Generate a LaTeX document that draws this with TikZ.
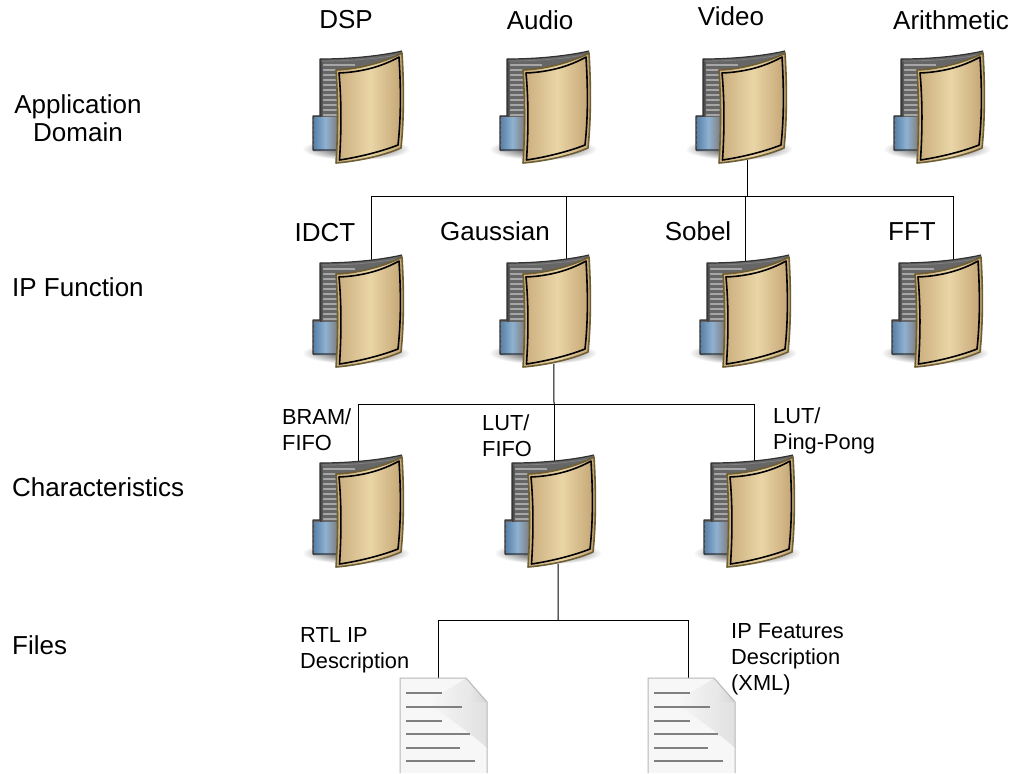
\documentclass[tikz,border=0pt]{standalone}
\usepackage{fontspec}
\setmainfont{Liberation Sans}
\begin{document}
\definecolor{gold}{HTML}{6E5E34}
\definecolor{panelA}{HTML}{C9AC7C}
\definecolor{panelB}{HTML}{EAD5A6}
\definecolor{panelC}{HTML}{C2A272}
\definecolor{blueA}{HTML}{5A82A8}
\definecolor{blueB}{HTML}{8FB2D2}
\begin{tikzpicture}[x=1pt,y=-1pt,
  big/.style={font=\fontsize{26}{27}\selectfont,align=center,inner sep=0pt},
  bigleft/.style={font=\fontsize{26}{27}\selectfont,anchor=west,inner sep=0pt},
  small/.style={font=\fontsize{21.8}{26}\selectfont,anchor=north west,align=left,inner sep=0pt},
  anchorbox/.style={minimum height=#1,inner sep=0pt,draw=none},
  conn/.style={draw=black,line width=1pt},
  folder/.pic={
    \shade[inner color=black!85,outer color=white] (61,104) ellipse [x radius=54,y radius=11];
    \path[fill=black!60] (25,14) .. controls (55,14) and (85,11) .. (107,6) -- (107,90) -- (42,106) -- (18,106) -- (18,71) -- (25,71) -- cycle;
    \begin{scope}
      \clip (25,14) .. controls (55,14) and (85,11) .. (107,6) -- (107,90) -- (42,106) -- (18,106) -- (18,71) -- (25,71) -- cycle;
      \foreach \yy in {20,25,...,100} {\draw[black!35,line width=2pt] (18,\yy) -- (60,\yy);}
      \shade[left color=black!75,right color=black!60] (25,14) rectangle (28,74);
      \shade[left color=blueA,right color=black!50,middle color=blueB] (19,73) rectangle (42,106);
    \end{scope}
    \draw[black!80,line width=1.2pt,line join=round] (107,6) .. controls (85,11) and (55,14) .. (25,14) -- (25,71) -- (18,71) -- (18,105) -- (42,105);
    \draw[black!50,line width=.8pt] (26,16) .. controls (55,16) and (80,14) .. (102,10);
    \shade[left color=panelA,right color=panelC,middle color=panelB,draw=gold,line width=1.6pt,line join=round]
      (41,25) .. controls (65,24) and (90,17) .. (107,8) .. controls (109,40) and (109,75) .. (106,103) .. controls (90,110) and (65,116) .. (41,118) .. controls (43,88) and (43,55) .. (41,25) -- cycle;
    \draw[black,line width=1.6pt,line join=round]
      (44,28) .. controls (68,27) and (88,21) .. (104,12) .. controls (106,45) and (106,72) .. (103,100) .. controls (88,106) and (65,112) .. (44.5,115) .. controls (46.5,85) and (46.5,55) .. (44,28) -- cycle;
  },
  docpic/.pic={
    \path[fill=black!3] (0,0) -- (66,0) -- (87,24) -- (87,95) -- (0,95) -- cycle;
    \shade[shading angle=45,left color=black!3,right color=black!12] (66,0) -- (87,24) -- (87,70) .. controls (65,50) and (40,35) .. (28,25) .. controls (40,15) and (60,5) .. (66,0) -- cycle;
    \shade[shading angle=45,left color=black!8,right color=black!16] (66,0) -- (87,24) -- (70,24) -- cycle;
    \draw[black!28,line width=1pt] (0,95) -- (0,0) -- (66,0) -- (87,24) -- (87,95);
    \foreach \yy/\xe in {15/42,29/62,43/42,56/70,70/60,83/75} {\draw[black!50,line width=2.4pt] (6,\yy) -- (\xe,\yy);}
  }]
\useasboundingbox (0,0) rectangle (1019,773);
\fill[white] (0,0) rectangle (1019,773);

% invisible anchors of the folders and documents
\node[anchorbox=100pt,minimum width=20pt] (fVideo) at (747,105) {};
\node[anchorbox=92pt,minimum width=20pt] (fIDCT) at (371,316) {};
\node[anchorbox=92pt,minimum width=24pt] (fGauss) at (566,316) {};
\node[anchorbox=92pt,minimum width=20pt] (fSobel) at (745,316) {};
\node[anchorbox=92pt,minimum width=20pt] (fFFT) at (953,316) {};
\node[anchorbox=92pt,minimum width=20pt] (fBram) at (358,516) {};
\node[anchorbox=92pt,minimum width=8pt] (fLut) at (554,516) {};
\node[anchorbox=92pt,minimum width=20pt] (fPing) at (754,516) {};
\node[anchorbox=90pt,minimum width=20pt] (dRtl) at (438,725) {};
\node[anchorbox=90pt,minimum width=20pt] (dXml) at (688,725) {};
\coordinate (busA) at (747,196);
\coordinate (busB) at (554,404);
\coordinate (busC) at (558,620);

% connectors
\draw[conn] (fVideo.south) -- (busA);
\draw[conn] (fIDCT.north) |- (busA);
\draw[conn] (fGauss.north) |- (busA);
\draw[conn] (fSobel.north) |- (busA);
\draw[conn] (fFFT.north) |- (busA);
\draw[conn] (fGauss.south west) -- (busB);
\draw[conn] (fBram.north) |- (busB);
\draw[conn] (fLut.north) -- (busB);
\draw[conn] (fPing.north) |- (busB);
\draw[conn] (fLut.south east) -- (busC);
\draw[conn] (dRtl.north) |- (busC);
\draw[conn] (dXml.north) |- (busC);

% folders
\foreach \fx in {295,482,678,876} {\pic at (\fx,45) {folder};}
\foreach \fx in {295,482,682,874} {\pic at (\fx,249) {folder};}
\foreach \fx in {295,487,686} {\pic at (\fx,449) {folder};}
% documents
\pic at (400,678) {docpic};
\pic at (648,678) {docpic};

% labels
\node[big] (tDSP) at (346,20) {DSP};
\node[big] (tAudio) at (540,20) {Audio};
\node[big] (tVideo) at (731,16) {Video};
\node[big] (tArith) at (951,20) {Arithmetic};
\node[big] (tIDCT) at (325,233) {IDCT};
\node[big] (tGauss) at (495,231) {Gaussian};
\node[big] (tSobel) at (698,231) {Sobel};
\node[big] (tFFT) at (912,232) {FFT};
\node[big,font=\fontsize{26}{28}\selectfont] (tApp) at (78,118) {Application\\Domain};
\node[bigleft] (tIP) at (12,287) {IP Function};
\node[bigleft] (tChar) at (12,487) {Characteristics};
\node[bigleft] (tFiles) at (12,645) {Files};
\node[small] (tBram) at (282,408) {BRAM/\\FIFO};
\node[small] (tLutF) at (482,414) {LUT/\\FIFO};
\node[small] (tLutP) at (773,407) {LUT/\\Ping-Pong};
\node[small] (tRtl) at (300,627) {RTL IP\\Description};
\node[small] (tXml) at (731,623) {IP Features\\Description\\(XML)};
\end{tikzpicture}
\end{document}
